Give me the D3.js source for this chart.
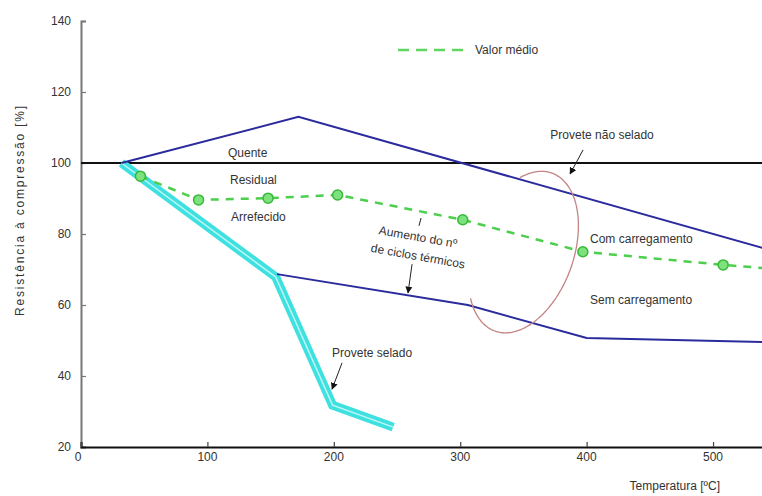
<!DOCTYPE html>
<html>
<head>
<meta charset="utf-8">
<script src="https://cdn.jsdelivr.net/npm/d3@7"></script>
<style>
  html, body { margin: 0; padding: 0; background: #fff; }
  svg { display: block; }
  text { font-family: "Liberation Sans", Arial, sans-serif; fill: #333; }
</style>
</head>
<body>
<svg id="chart" width="762" height="496"></svg>
<script>
// Axis ticks
const tempTicks = [0, 100, 200, 300, 400, 500];
const resTicks = [20, 40, 60, 80, 100, 120, 140];

// Hot strength, unsealed specimen
const hotTemp = [32, 172, 540];
const hotRes = [100, 113, 76];

// Residual strength after thermal cycles (without load)
const cycTemp = [155, 306, 400, 540];
const cycRes = [68.7, 60, 50.7, 49.6];

// Sealed specimen
const sealedTemp = [32, 154, 199, 247];
const sealedRes = [100, 67.9, 31.8, 25.6];

// Mean value (with load)
const meanTemp = [47, 93, 148, 203, 302, 397, 508, 540];
const meanRes = [96.3, 89.6, 90.1, 91, 84, 75, 71.3, 70.4];
const meanMarked = [true, true, true, true, true, true, true, false];

// Reference level
const refLevel = 100;

const svg = d3.select("#chart");
const x = d3.scaleLinear().domain([0, 540]).range([81, 763.6]);
const y = d3.scaleLinear().domain([20, 140]).range([447, 21]);

const line = d3.line().x(d => x(d[0])).y(d => y(d[1]));
const zip = (a, b) => a.map((v, i) => [v, b[i]]);

// Arrowhead marker
const defs = svg.append("defs");
defs.append("marker")
  .attr("id", "arrow")
  .attr("viewBox", "0 0 10 10")
  .attr("refX", 9).attr("refY", 5)
  .attr("markerWidth", 7).attr("markerHeight", 7)
  .attr("orient", "auto")
  .append("path").attr("d", "M0,0 L10,5 L0,10 z").attr("fill", "#111");

// Y axis
const yAxis = svg.append("g").attr("transform", `translate(${x(0)},0)`)
  .call(d3.axisRight(y).tickValues(resTicks).tickSize(5).tickFormat(""));
yAxis.select(".domain").attr("stroke", "#777").attr("stroke-width", 2);
yAxis.selectAll(".tick line").attr("stroke", "#777").attr("stroke-width", 1.2);
svg.append("g").selectAll("text").data(resTicks).join("text")
  .attr("x", x(0) - 10).attr("y", d => y(d)).attr("dy", "0.35em")
  .attr("text-anchor", "end").attr("font-size", 12).attr("fill", "#444")
  .text(d => d);

// X axis
const xAxis = svg.append("g").attr("transform", `translate(0,${y(20)})`)
  .call(d3.axisTop(x).tickValues(tempTicks).tickSize(5).tickFormat(""));
xAxis.select(".domain").attr("stroke", "#111").attr("stroke-width", 2);
xAxis.selectAll(".tick line").attr("stroke", "#444").attr("stroke-width", 1.2);
svg.append("g").selectAll("text").data(tempTicks).join("text")
  .attr("x", d => x(d) - (d === 0 ? 3 : 0)).attr("y", y(20) + 14)
  .attr("text-anchor", "middle").attr("font-size", 12).attr("fill", "#444")
  .text(d => d);

// Axis titles
svg.append("text")
  .attr("transform", `translate(24,${y(80) - 24}) rotate(-90)`)
  .attr("text-anchor", "middle").attr("font-size", 12).attr("fill", "#444")
  .attr("letter-spacing", 1.8)
  .text("Resistência à compressão [%]");
svg.append("text")
  .attr("x", 720).attr("y", 490).attr("text-anchor", "end")
  .attr("font-size", 12).text("Temperatura [ºC]");

// Reference line at 100 %
svg.append("line")
  .attr("x1", x(0)).attr("x2", x(540))
  .attr("y1", y(refLevel)).attr("y2", y(refLevel))
  .attr("stroke", "#111").attr("stroke-width", 2);

// Sealed specimen: wide cyan band with light core
const sealed = zip(sealedTemp, sealedRes);
svg.append("path").attr("d", line(sealed)).attr("fill", "none")
  .attr("stroke", "#3fe0e0").attr("stroke-width", 9).attr("stroke-linejoin", "miter");
svg.append("path").attr("d", line(sealed)).attr("fill", "none")
  .attr("stroke", "#bff7f7").attr("stroke-width", 1.5);

// Unsealed specimen lines
svg.append("path").attr("d", line(zip(hotTemp, hotRes))).attr("fill", "none")
  .attr("stroke", "#2b2b9e").attr("stroke-width", 2);
svg.append("path").attr("d", line(zip(cycTemp, cycRes))).attr("fill", "none")
  .attr("stroke", "#2b2b9e").attr("stroke-width", 2);

// Mean value (dashed green) with markers
const mean = zip(meanTemp, meanRes);
svg.append("path").attr("d", line(mean)).attr("fill", "none")
  .attr("stroke", "#4ccf4c").attr("stroke-width", 2.5).attr("stroke-dasharray", "8,7");
svg.append("g").selectAll("circle").data(mean.filter((d, i) => meanMarked[i])).join("circle")
  .attr("cx", d => x(d[0])).attr("cy", d => y(d[1])).attr("r", 5)
  .attr("fill", "#7de27d").attr("stroke", "#38b838").attr("stroke-width", 1.5);

// Ellipse grouping the loaded / unloaded results (open arc on the left)
(function () {
  const cx = x(350), cy = y(74.9);
  const a = 84, b = 50;
  const u = [0.34, -0.94], v = [0.94, 0.34];
  const pts = d3.range(-35, 224, 2).map(deg => {
    const t = deg * Math.PI / 180;
    return [cx + a * Math.cos(t) * u[0] + b * Math.sin(t) * v[0],
            cy + a * Math.cos(t) * u[1] + b * Math.sin(t) * v[1]];
  });
  svg.append("path").attr("d", d3.line().curve(d3.curveBasis)(pts))
    .attr("fill", "none").attr("stroke", "#c48484").attr("stroke-width", 1.3);
})();

// Legend
svg.append("line")
  .attr("x1", x(250.8)).attr("x2", x(307.8)).attr("y1", y(131.8)).attr("y2", y(131.8))
  .attr("stroke", "#5fd65f").attr("stroke-width", 2.5).attr("stroke-dasharray", "11,7");
svg.append("text").attr("x", x(311.7)).attr("y", y(131.8)).attr("dy", "0.35em")
  .attr("font-size", 12).text("Valor médio");

// Text labels
const label = (t, v, s, anchor, rot) => {
  const el = svg.append("text").attr("font-size", 12).attr("dy", "0.35em")
    .attr("text-anchor", anchor || "start").text(s);
  if (rot) el.attr("transform", `translate(${x(t)},${y(v)}) rotate(${rot})`);
  else el.attr("x", x(t)).attr("y", y(v));
  return el;
};
label(116.3, 102.8, "Quente");
label(117.9, 95.2, "Residual");
label(118.7, 84.8, "Arrefecido");
label(412.2, 107.9, "Provete não selado", "middle");
label(402.7, 78.6, "Com carregamento");
label(402.7, 61.4, "Sem carregamento");
label(198.6, 46.5, "Provete selado");
label(266.6, 79.2, "Aumento do nº", "middle", 10);
label(266.6, 73.8, "de ciclos térmicos", "middle", 10);

// Pointer lines
const pointer = (t1, v1, t2, v2, head) => {
  const l = svg.append("line")
    .attr("x1", x(t1)).attr("y1", y(v1)).attr("x2", x(t2)).attr("y2", y(v2))
    .attr("stroke", "#222").attr("stroke-width", 1);
  if (head) l.attr("marker-end", "url(#arrow)");
};
pointer(397.2, 103.7, 386.9, 96.9, true);
pointer(206.5, 43.7, 198.6, 36.3, true);
pointer(261.9, 71.5, 258.7, 63.4, true);
pointer(269.0, 84.5, 267.4, 82.3, false);
</script>
</body>
</html>
